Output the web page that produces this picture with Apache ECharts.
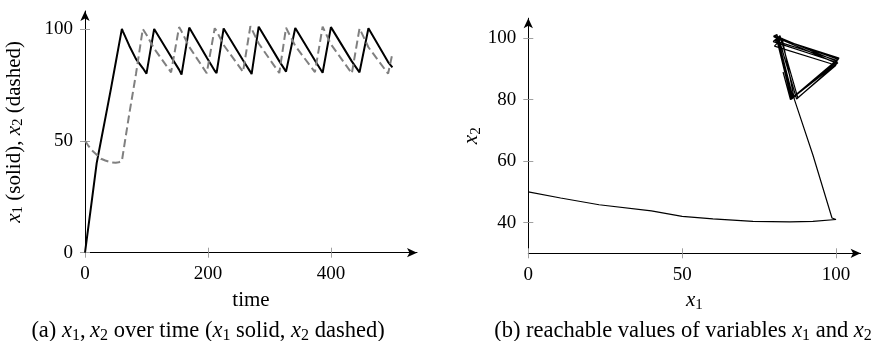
<!DOCTYPE html>
<html>
<head>
<meta charset="utf-8">
<script src="https://cdn.jsdelivr.net/npm/echarts@6.0.0/dist/echarts.min.js"></script>
<style>
  html, body { margin: 0; padding: 0; background: #fff; }
  #main { width: 874px; height: 341px; }
</style>
</head>
<body>
<div id="main"></div>
<script>
// samples: time, x1 (solid) and x2 (dashed) at the same instants
const time = [0, 5, 11, 19, 26, 33, 42, 50, 55, 60, 62, 72, 83, 94, 100, 112.5, 140, 153, 157, 169.5,
  198, 211, 214, 225.5, 257, 269, 271, 282.5, 316, 327, 328.5, 342, 374, 386.5, 387.5, 400, 434, 446.5, 447.5, 461,
  493, 500]
const x1 = [0, 10.5, 23, 40, 50, 60, 73, 85, 92.5, 100, 98.7, 92.5, 86.5, 82.5, 80, 100, 87.6, 81.8, 79.6, 100.6,
  87.2, 81.3, 80.3, 100.2, 86, 80.8, 79.8, 101, 85.6, 80.9, 80.4, 100.4, 85.9, 80.4, 79.7, 100.8, 85.5, 80.6, 80.2, 100.3,
  85.2, 82.8]
const x2 = [50, 48, 45.8, 43.8, 42, 41.2, 40.4, 40.2, 40.4, 41, 41.5, 62, 80, 100, 97.4, 91.2, 80.6, 100.8, 98.9, 92,
  80.2, 100.3, 99.1, 92.8, 80.8, 101.2, 100.4, 93.5, 80.3, 100.5, 99.9, 92.4, 80.7, 101, 100.6, 93.1, 80.1, 100.2, 99.8, 91.8,
  80, 89]

const timeTicks = [0, 200, 400]
const levelTicks = [0, 50, 100]
const phaseXTicks = [0, 50, 100]
const phaseYTicks = [40, 60, 80, 100]

const FONT = "'Liberation Serif', 'Times New Roman', 'DejaVu Serif', serif"

const makeText = (size) => ({
  fontFamily: FONT,
  fontSize: size,
  fontWeight: 'normal',
  lineHeight: size + 2,
  color: '#000',
  rich: {
    i: { fontFamily: FONT, fontStyle: 'italic', fontSize: size, lineHeight: size + 2, color: '#000' },
    s: { fontFamily: FONT, fontSize: Math.round(size * 0.7), lineHeight: Math.round(size * 0.55), verticalAlign: 'bottom', color: '#000' }
  }
})

const textStyle = makeText(21)
const captionStyle = makeText(22.5)

const tickLine = { color: '#a0a0a0', width: 1 }

const arrowLine = {
  show: true,
  onZero: false,
  symbol: ['none', 'arrow'],
  symbolSize: [7, 10],
  lineStyle: { color: '#000', width: 1 }
}

const labelStyle = (ticks) => ({
  customValues: ticks,
  fontFamily: FONT,
  fontSize: 19,
  color: '#000',
  margin: 12
})

// visible axis: line with arrow, outer ticks, labels
const mainAxis = (gridIndex, position, min, max, interval, ticks, extra) => ({
  type: 'value',
  gridIndex: gridIndex,
  position: position,
  min: min,
  max: max,
  interval: interval,
  axisLine: arrowLine,
  axisTick: { customValues: ticks, length: 5, lineStyle: tickLine },
  axisLabel: labelStyle(ticks),
  splitLine: { show: false },
  ...extra
})

// twin axis drawing only the inner half of the ticks
const innerTicks = (gridIndex, position, min, max, interval, ticks) => ({
  type: 'value',
  gridIndex: gridIndex,
  position: position,
  min: min,
  max: max,
  interval: interval,
  axisLine: { show: false, onZero: false },
  axisTick: { customValues: ticks, inside: true, length: 5, lineStyle: tickLine },
  axisLabel: { show: false },
  splitLine: { show: false }
})

const chart = echarts.init(document.getElementById('main'))

const option = {
  animation: false,
  backgroundColor: '#fff',
  title: [
    {
      text: '(a) {i|x}{s|1},\u2009{i|x}{s|2} over time ({i|x}{s|1} solid, {i|x}{s|2} dashed)',
      left: 203,
      top: 314,
      textAlign: 'center',
      textStyle: captionStyle
    },
    {
      text: '(b) reachable values of variables {i|x}{s|1} and {i|x}{s|2}',
      left: 678,
      top: 314,
      textAlign: 'center',
      textStyle: captionStyle
    }
  ],
  grid: [
    { left: 85, top: 11, width: 332, height: 241.7, outerBoundsMode: 'none' },
    { left: 528.3, top: 18.2, width: 332.3, height: 235.1, outerBoundsMode: 'none' }
  ],
  xAxis: [
    mainAxis(0, 'bottom', 0, 540, 200, timeTicks, {
      name: 'time',
      nameLocation: 'middle',
      nameGap: 35,
      nameTextStyle: textStyle
    }),
    innerTicks(0, 'bottom', 0, 540, 200, timeTicks),
    mainAxis(1, 'bottom', 0, 108, 50, phaseXTicks, {
      name: '{i|x}{s|1}',
      nameLocation: 'middle',
      nameGap: 36,
      nameTextStyle: textStyle
    }),
    innerTicks(1, 'bottom', 0, 108, 50, phaseXTicks)
  ],
  yAxis: [
    mainAxis(0, 'left', 0, 108, 50, levelTicks, {
      name: '{i|x}{s|1} (solid), {i|x}{s|2} (dashed)',
      nameLocation: 'middle',
      nameRotate: 90,
      nameGap: 59,
      nameTextStyle: textStyle
    }),
    innerTicks(0, 'left', 0, 108, 50, levelTicks),
    mainAxis(1, 'left', 30, 106.5, 10, phaseYTicks, {
      name: '{i|x}{s|2}',
      nameLocation: 'middle',
      nameRotate: 90,
      nameGap: 45,
      nameTextStyle: textStyle
    }),
    innerTicks(1, 'left', 30, 106.5, 10, phaseYTicks)
  ],
  series: [
    {
      name: 'x1',
      type: 'line',
      xAxisIndex: 0,
      yAxisIndex: 0,
      data: time.map((t, i) => [t, x1[i]]),
      showSymbol: false,
      lineStyle: { color: '#000', width: 2 }
    },
    {
      name: 'x2',
      type: 'line',
      xAxisIndex: 0,
      yAxisIndex: 0,
      data: time.map((t, i) => [t, x2[i]]),
      showSymbol: false,
      lineStyle: { color: '#808080', width: 2, type: [8, 4] }
    },
    {
      name: 'phase',
      type: 'line',
      xAxisIndex: 2,
      yAxisIndex: 2,
      data: x1.map((v, i) => [v, x2[i]]),
      showSymbol: false,
      lineStyle: { color: '#000', width: 1.2 }
    }
  ]
}

chart.setOption(option)
</script>
</body>
</html>
